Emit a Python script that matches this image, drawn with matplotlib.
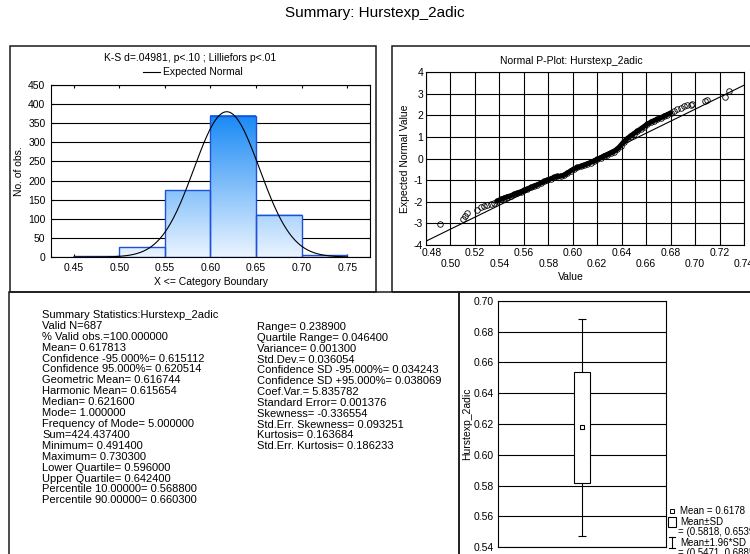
import numpy as np
import matplotlib.pyplot as plt
import matplotlib.transforms as mtransforms
from matplotlib.patches import Rectangle
from matplotlib.lines import Line2D
from matplotlib.colors import LinearSegmentedColormap

plt.rcParams['font.family'] = ['Liberation Sans', 'DejaVu Sans']
plt.rcParams['font.size'] = 7.5
plt.rcParams['axes.unicode_minus'] = False

var_name = 'Hurstexp_2adic'
n_obs = 687
mean_val = 0.617813
sd_val = 0.036054

# histogram bins
bin_edges = [0.45, 0.50, 0.55, 0.60, 0.65, 0.70, 0.75]
bin_counts = [2, 25, 175, 370, 110, 5]

# normal probability plot: observed value vs expected normal value
pp_value = [0.4912, 0.5105, 0.5119, 0.5132, 0.5220, 0.5247, 0.5274, 0.5301, 0.5329, 0.5356,
            0.5383, 0.5410, 0.5438, 0.5465, 0.5492, 0.5519, 0.5547, 0.5574, 0.5601, 0.5628,
            0.5656, 0.5683, 0.5710, 0.5737, 0.5765, 0.5792, 0.5819, 0.5846, 0.5874, 0.5901,
            0.5928, 0.5955, 0.5983, 0.6010, 0.6037, 0.6064, 0.6092, 0.6119, 0.6146, 0.6173,
            0.6201, 0.6228, 0.6255, 0.6282, 0.6310, 0.6337, 0.6364, 0.6391, 0.6419, 0.6446,
            0.6473, 0.6500, 0.6528, 0.6555, 0.6582, 0.6609, 0.6637, 0.6664, 0.6691, 0.6718,
            0.6746, 0.6773, 0.6800, 0.6827, 0.6855, 0.6882, 0.6909, 0.6936, 0.6964, 0.6977,
            0.7081, 0.7094, 0.7247, 0.7274]
pp_expected = [-3.046, -2.800, -2.646, -2.508, -2.385, -2.231, -2.200, -2.154, -2.108, -2.046,
               -1.969, -1.892, -1.831, -1.769, -1.723, -1.662, -1.600, -1.538, -1.477, -1.415,
               -1.338, -1.277, -1.215, -1.138, -1.062, -1.000, -0.938, -0.877, -0.831, -0.815,
               -0.769, -0.677, -0.569, -0.477, -0.415, -0.369, -0.308, -0.246, -0.185, -0.123,
               -0.046, 0.031, 0.108, 0.169, 0.246, 0.323, 0.431, 0.600, 0.785, 0.923,
               1.046, 1.154, 1.262, 1.369, 1.477, 1.585, 1.677, 1.754, 1.815, 1.877,
               1.954, 2.031, 2.108, 2.200, 2.292, 2.354, 2.415, 2.462, 2.492, 2.508,
               2.646, 2.708, 2.846, 3.123]

stats_left = ['Summary Statistics:Hurstexp_2adic', 'Valid N=687', '% Valid obs.=100.000000',
              'Mean= 0.617813', 'Confidence -95.000%= 0.615112', 'Confidence 95.000%= 0.620514',
              'Geometric Mean= 0.616744', 'Harmonic Mean= 0.615654', 'Median= 0.621600',
              'Mode= 1.000000', 'Frequency of Mode= 5.000000', 'Sum=424.437400',
              'Minimum= 0.491400', 'Maximum= 0.730300', 'Lower Quartile= 0.596000',
              'Upper Quartile= 0.642400', 'Percentile 10.00000= 0.568800',
              'Percentile 90.00000= 0.660300']
stats_right = ['Range= 0.238900', 'Quartile Range= 0.046400', 'Variance= 0.001300',
               'Std.Dev.= 0.036054', 'Confidence SD -95.000%= 0.034243',
               'Confidence SD +95.000%= 0.038069', 'Coef.Var.= 5.835782',
               'Standard Error= 0.001376', 'Skewness= -0.336554',
               'Std.Err. Skewness= 0.093251', 'Kurtosis= 0.163684',
               'Std.Err. Kurtosis= 0.186233']

W, H = 750, 554
fig = plt.figure(figsize=(7.5, 5.54), dpi=100)


def fx(px):
    return px / W


def fy(py):
    return 1 - py / H


def axes_px(l, t, r, b):
    return fig.add_axes([fx(l), fy(b), (r - l) / W, (b - t) / H])


def frame(l, t, r, b):
    fig.add_artist(Rectangle((fx(l), fy(b)), (r - l) / W, (b - t) / H, transform=fig.transFigure,
                             fill=False, ec='#1a1a1a', lw=1.1, clip_on=False))


fig.text(0.5, fy(13), 'Summary: ' + var_name, ha='center', va='center', fontsize=11)

frame(10, 46, 376, 292)
frame(392, 46, 760, 292)
frame(9, 292, 459, 560)
frame(459, 292, 760, 560)

# --- histogram with expected normal curve ---
ax1 = axes_px(51, 85, 370, 257)
cmap = LinearSegmentedColormap.from_list('bars', ['#eaf4ff', '#1a8af5'])
top = max(bin_counts)
for x0, x1, c in zip(bin_edges[:-1], bin_edges[1:], bin_counts):
    grad = np.linspace(0, c / top, 64).reshape(-1, 1)
    ax1.imshow(grad, cmap=cmap, vmin=0, vmax=1, origin='lower', extent=(x0, x1, 0, c),
               aspect='auto', zorder=2, interpolation='bilinear')
    ax1.add_patch(Rectangle((x0, 0), x1 - x0, c, fill=False, ec='#1f50d8', lw=1, zorder=3))
bw = bin_edges[1] - bin_edges[0]
xs = np.linspace(bin_edges[0], bin_edges[-1], 400)
ys = n_obs * bw * np.exp(-0.5 * ((xs - mean_val) / sd_val) ** 2) / (sd_val * np.sqrt(2 * np.pi))
ax1.plot(xs, ys, color='k', lw=0.8, zorder=4)
ax1.set_xlim(0.425, 0.775)
ax1.set_ylim(0, 450)
ax1.set_xticks(bin_edges)
ax1.set_xticklabels(['%.2f' % e for e in bin_edges])
ax1.set_yticks(range(0, 451, 50))
ax1.yaxis.grid(True, color='k', lw=0.8)
ax1.set_axisbelow(True)
ax1.tick_params(direction='in', length=2, top=True, right=True, pad=4)
ax1.set_ylabel('No. of obs.', labelpad=3)
ax1.set_xlabel('X <= Category Boundary', labelpad=3)

fig.text(fx(190), fy(58), 'K-S d=.04981, p<.10 ; Lilliefors p<.01', ha='center', va='center')
fig.add_artist(Line2D([fx(143), fx(160)], [fy(72), fy(72)], color='k', lw=0.8))
fig.text(fx(163), fy(72), 'Expected Normal', ha='left', va='center')

# --- normal probability plot ---
ax2 = axes_px(426, 72, 744, 245)
xl = np.array([0.48, 0.74])
ax2.plot(xl, (xl - mean_val) / sd_val, color='k', lw=0.8, zorder=3)
ax2.plot(pp_value[10:63], pp_expected[10:63], color='k', lw=3.6, zorder=4,
         solid_capstyle='round')
ax2.plot(pp_value, pp_expected, 'o', ms=4, mfc='none', mec='k', mew=0.6, zorder=5)
ax2.set_xlim(0.48, 0.74)
ax2.set_ylim(-4, 4)
ticks = np.round(np.arange(0.48, 0.7401, 0.02), 2)
ax2.set_xticks(ticks)
ax2.set_xticklabels([('%.2f' if i % 2 == 0 else '\n%.2f') % t for i, t in enumerate(ticks)],
                    linespacing=1.1)
ax2.set_yticks(range(-4, 5))
ax2.grid(True, color='k', lw=0.8)
ax2.set_axisbelow(True)
ax2.tick_params(length=0, pad=2)
# first x label steps right so it clears the -4
first = ax2.get_xticklabels()[0]
first.set_transform(first.get_transform() + mtransforms.ScaledTranslation(6 / 100, 0, fig.dpi_scale_trans))
ax2.set_ylabel('Expected Normal Value', labelpad=3)
ax2.set_xlabel('Value', labelpad=2)
ax2.xaxis.set_label_coords((571 - 426) / 318, -0.155)
fig.text(fx(571), fy(61), 'Normal P-Plot: ' + var_name, ha='center', va='center')

# --- summary statistics text ---
for i, s in enumerate(stats_left):
    fig.text(fx(42), fy(315 + i * 10.9), s, ha='left', va='center', fontsize=8)
for i, s in enumerate(stats_right):
    fig.text(fx(257), fy(327 + i * 10.85), s, ha='left', va='center', fontsize=8)

# --- box plot: mean, mean+-SD, mean+-1.96*SD ---
ax3 = axes_px(498, 301, 666, 547)
lo1, hi1 = mean_val - sd_val, mean_val + sd_val
lo2, hi2 = mean_val - 1.96 * sd_val, mean_val + 1.96 * sd_val
ax3.vlines(0.5, lo2, lo1, color='k', lw=0.8, zorder=3)
ax3.vlines(0.5, hi1, hi2, color='k', lw=0.8, zorder=3)
ax3.hlines([lo2, hi2], 0.475, 0.525, color='k', lw=0.8, zorder=3)
ax3.add_patch(Rectangle((0.45, lo1), 0.1, hi1 - lo1, fc='white', ec='k', lw=0.8, zorder=3))
ax3.plot([0.5], [mean_val], 's', ms=3, mfc='white', mec='k', mew=0.8, zorder=4)
ax3.set_xlim(0, 1)
ax3.set_ylim(0.54, 0.70)
ax3.set_xticks([])
ax3.set_yticks(np.round(np.arange(0.54, 0.701, 0.02), 2))
ax3.yaxis.grid(True, color='k', lw=0.8)
ax3.set_axisbelow(True)
ax3.tick_params(length=0, pad=3)
ax3.set_ylabel(var_name, labelpad=1)

# legend beside the box plot
lg = 7
fig.add_artist(Line2D([fx(672)], [fy(511)], marker='s', ms=2.5, mfc='white', mec='k', mew=0.7,
                      linestyle='none'))
fig.text(fx(680), fy(511), 'Mean = %.4f' % mean_val, va='center', fontsize=lg)
fig.add_artist(Rectangle((fx(668), fy(527)), 8 / W, 10 / H, transform=fig.transFigure,
                         fill=False, ec='k', lw=0.8))
fig.text(fx(680), fy(522), 'Mean±SD', va='center', fontsize=lg)
fig.text(fx(678), fy(532), '= (%.4f, %.4f)' % (lo1, hi1), va='center', fontsize=lg)
fig.add_artist(Line2D([fx(672), fx(672)], [fy(537), fy(548)], color='k', lw=0.8))
fig.add_artist(Line2D([fx(669), fx(675)], [fy(537), fy(537)], color='k', lw=0.8))
fig.add_artist(Line2D([fx(669), fx(675)], [fy(548), fy(548)], color='k', lw=0.8))
fig.text(fx(680), fy(543), 'Mean±1.96*SD', va='center', fontsize=lg)
fig.text(fx(678), fy(553), '= (%.4f, %.4f)' % (lo2, hi2), va='center', fontsize=lg)

fig.savefig('out.png', dpi=100)
